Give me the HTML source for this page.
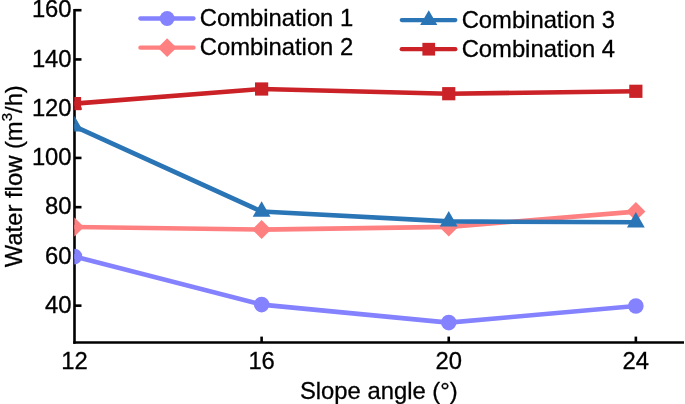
<!DOCTYPE html>
<html><head><meta charset="utf-8"><style>
html,body{margin:0;padding:0;background:#fff;}
svg{display:block;will-change:transform;}
text{font-family:"Liberation Sans",sans-serif;font-size:23.8px;fill:#000;stroke:#000;stroke-width:0.3px;}
</style></head><body>
<svg width="685" height="404" viewBox="0 0 685 404">
<defs><filter id="bl" x="0" y="0" width="100%" height="100%" filterUnits="userSpaceOnUse"><feGaussianBlur stdDeviation="0.4"/></filter><clipPath id="pc"><rect x="74.3" y="0" width="610.5" height="342.5"/></clipPath></defs>
<g filter="url(#bl)"><rect x="0" y="0" width="685" height="404" fill="#fff"/>
<line x1="74.5" y1="8.90" x2="74.5" y2="343.8" stroke="#000" stroke-width="2.6"/>
<line x1="73.2" y1="342.5" x2="684" y2="342.5" stroke="#000" stroke-width="2.6"/>
<line x1="74.5" y1="10.20" x2="81.5" y2="10.20" stroke="#000" stroke-width="2.6"/>
<line x1="74.5" y1="59.44" x2="81.5" y2="59.44" stroke="#000" stroke-width="2.6"/>
<line x1="74.5" y1="108.68" x2="81.5" y2="108.68" stroke="#000" stroke-width="2.6"/>
<line x1="74.5" y1="157.92" x2="81.5" y2="157.92" stroke="#000" stroke-width="2.6"/>
<line x1="74.5" y1="207.16" x2="81.5" y2="207.16" stroke="#000" stroke-width="2.6"/>
<line x1="74.5" y1="256.40" x2="81.5" y2="256.40" stroke="#000" stroke-width="2.6"/>
<line x1="74.5" y1="305.64" x2="81.5" y2="305.64" stroke="#000" stroke-width="2.6"/>
<line x1="261.62" y1="342.5" x2="261.62" y2="336.6" stroke="#000" stroke-width="2.6"/>
<line x1="448.74" y1="342.5" x2="448.74" y2="336.6" stroke="#000" stroke-width="2.6"/>
<line x1="635.86" y1="342.5" x2="635.86" y2="336.6" stroke="#000" stroke-width="2.6"/>
<g clip-path="url(#pc)">
<polyline points="74.50,256.60 261.62,304.60 448.74,322.60 635.86,306.05" fill="none" stroke="#8482ff" stroke-width="4.6" stroke-linejoin="round" stroke-linecap="round"/>
<circle cx="74.50" cy="256.60" r="7.8" fill="#8482ff"/>
<circle cx="261.62" cy="304.60" r="7.8" fill="#8482ff"/>
<circle cx="448.74" cy="322.60" r="7.8" fill="#8482ff"/>
<circle cx="635.86" cy="306.05" r="7.8" fill="#8482ff"/>
<polyline points="74.50,227.00 261.62,229.60 448.74,226.90 635.86,211.60" fill="none" stroke="#ff8080" stroke-width="4.6" stroke-linejoin="round" stroke-linecap="round"/>
<polygon points="74.50,217.50 84.00,227.00 74.50,236.50 65.00,227.00" fill="#ff8080"/>
<polygon points="261.62,220.10 271.12,229.60 261.62,239.10 252.12,229.60" fill="#ff8080"/>
<polygon points="448.74,217.40 458.24,226.90 448.74,236.40 439.24,226.90" fill="#ff8080"/>
<polygon points="635.86,202.10 645.36,211.60 635.86,221.10 626.36,211.60" fill="#ff8080"/>
<polyline points="74.50,126.40 261.62,211.50 448.74,221.40 635.86,222.30" fill="none" stroke="#2a75b6" stroke-width="4.6" stroke-linejoin="round" stroke-linecap="round"/>
<polygon points="74.50,116.12 83.40,131.54 65.60,131.54" fill="#2a75b6"/>
<polygon points="261.62,201.22 270.52,216.64 252.72,216.64" fill="#2a75b6"/>
<polygon points="448.74,211.12 457.64,226.54 439.84,226.54" fill="#2a75b6"/>
<polygon points="635.86,212.02 644.76,227.44 626.96,227.44" fill="#2a75b6"/>
<polyline points="74.50,103.60 261.62,89.00 448.74,93.70 635.86,91.30" fill="none" stroke="#ca2127" stroke-width="4.6" stroke-linejoin="round" stroke-linecap="round"/>
<rect x="67.90" y="97.00" width="13.2" height="13.2" fill="#ca2127"/>
<rect x="255.02" y="82.40" width="13.2" height="13.2" fill="#ca2127"/>
<rect x="442.14" y="87.10" width="13.2" height="13.2" fill="#ca2127"/>
<rect x="629.26" y="84.70" width="13.2" height="13.2" fill="#ca2127"/>
</g>
<text x="71.6" y="17.30" text-anchor="end">160</text>
<text x="71.6" y="66.54" text-anchor="end">140</text>
<text x="71.6" y="115.78" text-anchor="end">120</text>
<text x="71.6" y="165.02" text-anchor="end">100</text>
<text x="71.6" y="214.26" text-anchor="end">80</text>
<text x="71.6" y="263.50" text-anchor="end">60</text>
<text x="71.6" y="312.74" text-anchor="end">40</text>
<text x="74.50" y="368.8" text-anchor="middle">12</text>
<text x="261.62" y="368.8" text-anchor="middle">16</text>
<text x="448.74" y="368.8" text-anchor="middle">20</text>
<text x="635.86" y="368.8" text-anchor="middle">24</text>
 <text x="378.8" y="398.6" text-anchor="middle">Slope angle (°)</text>
<text transform="translate(21.7,267.2) rotate(-90)">Water flow (m<tspan dy="-9.3" font-size="15">3</tspan><tspan dy="9.3">/h)</tspan></text>
<line x1="140.4" y1="18.5" x2="193.5" y2="18.5" stroke="#8482ff" stroke-width="4.3" stroke-linecap="round"/>
<circle cx="167.15" cy="18.50" r="7.4" fill="#8482ff"/>
<text x="199.75" y="25.90">Combination 1</text>
<line x1="140.4" y1="47.7" x2="193.5" y2="47.7" stroke="#ff8080" stroke-width="4.3" stroke-linecap="round"/>
<polygon points="167.15,38.30 176.55,47.70 167.15,57.10 157.75,47.70" fill="#ff8080"/>
<text x="199.75" y="55.00">Combination 2</text>
<line x1="401.8" y1="20.1" x2="455.3" y2="20.1" stroke="#2a75b6" stroke-width="4.3" stroke-linecap="round"/>
<polygon points="428.75,10.17 437.35,25.07 420.15,25.07" fill="#2a75b6"/>
<text x="461.65" y="27.50">Combination 3</text>
<line x1="401.8" y1="49.2" x2="455.3" y2="49.2" stroke="#ca2127" stroke-width="4.3" stroke-linecap="round"/>
<rect x="422.40" y="42.85" width="12.7" height="12.7" fill="#ca2127"/>
<text x="461.65" y="56.60">Combination 4</text>
</g>
</svg>
</body></html>
